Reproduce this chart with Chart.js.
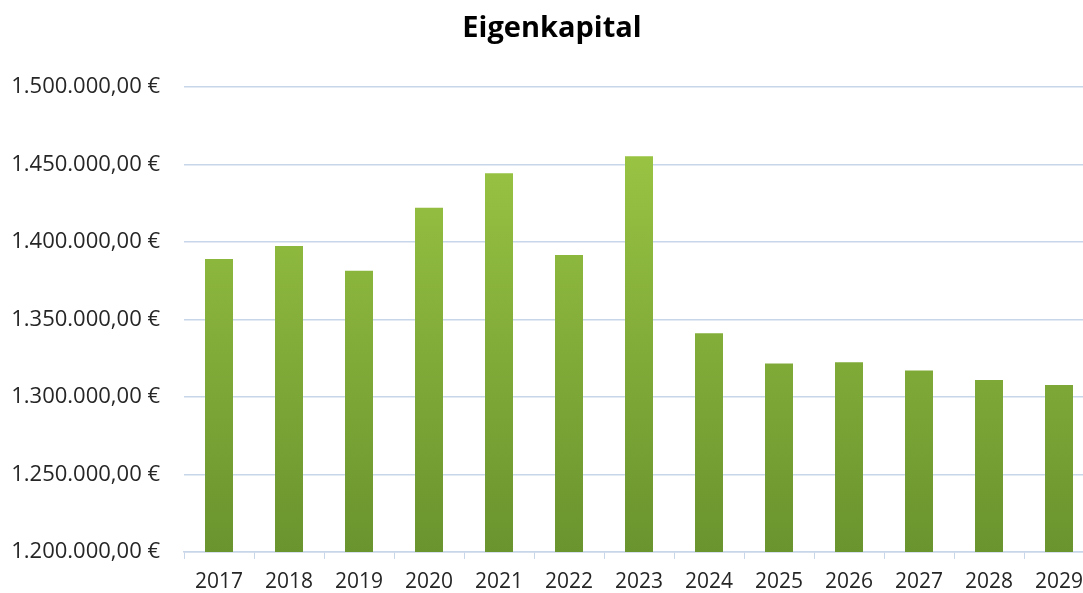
<!DOCTYPE html>
<html>
<head>
<meta charset="utf-8">
<script src="https://cdn.jsdelivr.net/npm/chart.js@4"></script>
<style>
  html, body { margin: 0; padding: 0; background: #fff; overflow: hidden; }
  #wrap { width: 1120px; height: 593px; }
</style>
</head>
<body>
<div id="wrap"><canvas id="chart"></canvas></div>
<script>
const years = ['2017', '2018', '2019', '2020', '2021', '2022', '2023', '2024', '2025', '2026', '2027', '2028', '2029'];
const equity = [1389000, 1397400, 1381300, 1422000, 1444200, 1391600, 1455200, 1341000, 1321600, 1322300, 1317100, 1311000, 1307700];
const yTicks = [1200000, 1250000, 1300000, 1350000, 1400000, 1450000, 1500000];

function euro(v) {
    let s = Math.round(v).toString().replace(/\B(?=(\d{3})+(?!\d))/g, '.');
    return s + ',00 €';
}

function barFill(context) {
    const area = context.chart.chartArea;
    if (!area) return '#8db83c';
    const g = context.chart.ctx.createLinearGradient(0, area.top, 0, area.bottom);
    g.addColorStop(0, '#a0cb46');
    g.addColorStop(1, '#6a942e');
    return g;
}

const ctx = document.getElementById('chart').getContext('2d');
new Chart(ctx, {
    type: 'bar',
    data: {
        labels: years,
        datasets: [{
            label: 'Eigenkapital',
            data: equity,
            backgroundColor: barFill,
            categoryPercentage: 0.4,
            barPercentage: 1
        }]
    },
    options: {
        responsive: true,
        maintainAspectRatio: false,
        animation: false,
        layout: { padding: { left: 10, right: 26, top: 0, bottom: 0 } },
        plugins: {
            legend: { display: false },
            tooltip: { enabled: false },
            title: {
                display: true,
                text: 'Eigenkapital',
                color: '#000',
                font: { family: 'Open Sans', size: 29, weight: 'bold', lineHeight: 1.2 },
                padding: { top: 11, bottom: 41 }
            }
        },
        scales: {
            x: {
                offset: true,
                afterFit: axis => { axis.height = 41; },
                grid: {
                    offset: true,
                    drawOnChartArea: false,
                    drawTicks: true,
                    tickLength: 7,
                    color: '#c8d6ea'
                },
                border: { color: '#c8d6ea', width: 1.5 },
                ticks: {
                    color: '#262626',
                    font: { family: 'Open Sans', size: 21, lineHeight: 1 },
                    padding: 13,
                    maxRotation: 0,
                    autoSkip: false
                }
            },
            y: {
                min: yTicks[0],
                max: yTicks[yTicks.length - 1],
                afterBuildTicks: axis => { axis.ticks = yTicks.map(v => ({ value: v })); },
                afterFit: axis => { axis.width = 174; },
                grid: { color: '#c8d6ea', lineWidth: 1.5, drawTicks: false },
                border: { display: false },
                ticks: {
                    color: '#262626',
                    font: { family: 'Open Sans', size: 22 },
                    padding: 24,
                    callback: v => euro(v)
                }
            }
        }
    }
});
</script>
</body>
</html>
